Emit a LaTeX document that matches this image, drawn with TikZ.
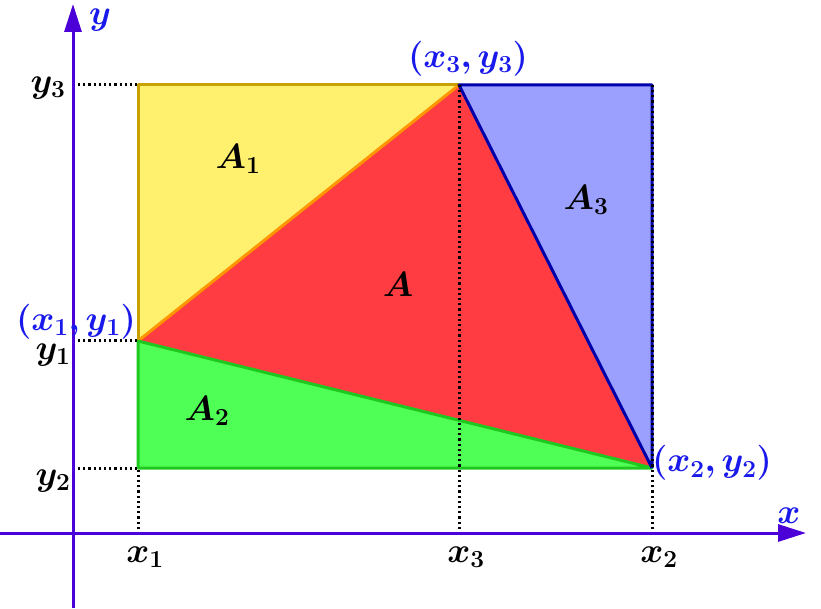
\documentclass[tikz,border=0pt]{standalone}
\usepackage{fix-cm}
\usepackage{amsmath,bm}
\usetikzlibrary{arrows.meta}
\definecolor{axiscol}{RGB}{75,0,215}
\definecolor{lblue}{RGB}{25,25,235}
\definecolor{yfill}{RGB}{255,240,110}
\definecolor{ydraw}{RGB}{200,160,0}
\definecolor{rfill}{RGB}{255,60,66}
\definecolor{odraw}{RGB}{255,150,0}
\definecolor{gfill}{RGB}{80,255,85}
\definecolor{gdraw}{RGB}{30,200,30}
\definecolor{bfill}{RGB}{155,160,255}
\definecolor{bdraw}{RGB}{0,0,170}
\begin{document}
\begin{tikzpicture}[x=1pt,y=1pt,
  axis/.style={axiscol,line width=3pt,-{Triangle[length=28pt,width=17pt]}},
  guide/.style={black,line width=3pt,dash pattern=on 2.2pt off 3pt},
  edge/.style={line width=3pt,line join=round},
  lbl/.style={inner sep=0pt,font=\fontsize{35}{38}\selectfont},
  blbl/.style={lbl,text=lblue}]
\useasboundingbox (0,0) rectangle (821,608);
\coordinate (P1) at (138,267);
\coordinate (P3) at (459,523);
\coordinate (P2) at (652,140);
\coordinate (TL) at (138,523);
\coordinate (TR) at (652,523);
\coordinate (BL) at (138,140);
\coordinate (Xe) at (806,75);
\coordinate (Xs) at (0,75);
\coordinate (Ye) at (73,604);
\coordinate (Ys) at (73,0);
% fills
\fill[yfill] (TL) -- (P3) -- (P1) -- cycle;
\fill[gfill] (P1) -- (P2) -- (BL) -- cycle;
\fill[bfill] (P3) -- (TR) -- (P2) -- cycle;
\fill[rfill] (P1) -- (P3) -- (P2) -- cycle;
% borders
\draw[edge,ydraw] (P1) -- (TL) -- (P3);
\draw[edge,odraw] (P1) -- (P3);
\draw[edge,gdraw] (P1) -- (BL) -- (P2) -- cycle;
\draw[edge,bdraw] (P2) -- (P3) -- (TR) -- (P2);
% axes
\draw[axis] (Xs) -- (Xe);
\draw[axis] (Ys) -- (Ye);
% guides
\coordinate (Y1) at (78,267);
\coordinate (Y2) at (78,140);
\coordinate (Y3) at (78,523);
\coordinate (X1) at (138,79);
\coordinate (X2) at (652,79);
\coordinate (X3) at (459,79);
\draw[guide] (Y3) -- (TL);
\draw[guide] (Y1) -- (P1);
\draw[guide] (Y2) -- (BL);
\draw[guide] (X1) -- (BL);
\draw[guide] (X3) -- (P3);
\draw[guide] (X2) -- (TR);
% labels
\node[blbl] (ly) at (100,588) {$\bm{y}$};
\node[blbl] (lx) at (789,92) {$\bm{x}$};
\node[lbl] (ly3) at (48,520) {$\bm{y_3}$};
\node[lbl] (ly1) at (53,253) {$\bm{y_1}$};
\node[lbl] (ly2) at (53,127) {$\bm{y_2}$};
\node[lbl] (lx1) at (145,51) {$\bm{x_1}$};
\node[lbl] (lx3) at (466,51) {$\bm{x_3}$};
\node[lbl] (lx2) at (659,51) {$\bm{x_2}$};
\node[blbl] (l3) at (468,549) {$\bm{(x_3,y_3)}$};
\node[blbl] (l1) at (76,286) {$\bm{(x_1,y_1)}$};
\node[blbl] (l2) at (712,145) {$\bm{(x_2,y_2)}$};
\node[lbl] (a1) at (238,449) {$\bm{A_1}$};
\node[lbl] (a) at (398,324) {$\bm{A}$};
\node[lbl] (a2) at (207,197) {$\bm{A_2}$};
\node[lbl] (a3) at (586,408) {$\bm{A_3}$};
\end{tikzpicture}
\end{document}
